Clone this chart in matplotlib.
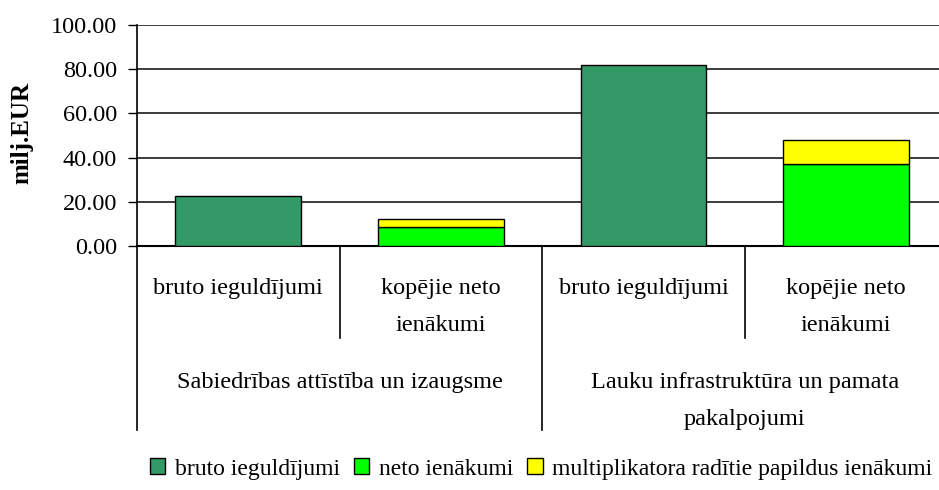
import matplotlib.pyplot as plt
from matplotlib.patches import Patch
import matplotlib.transforms as mtransforms

plt.rcParams['font.family'] = ['Liberation Serif', 'DejaVu Serif']

# dati (milj. EUR)
groups = ["Sabiedrības attīstība un izaugsme", "Lauku infrastruktūra un pamata\npakalpojumi"]
sub_labels = ["bruto ieguldījumi", "kopējie neto\nienākumi", "bruto ieguldījumi", "kopējie neto\nienākumi"]
bruto = [22.6, 81.7]
neto = [8.5, 36.9]
multiplikators = [3.6, 11.0]
legend_labels = ["bruto ieguldījumi", "neto ienākumi", "multiplikatora radītie papildus ienākumi"]
y_ticks = [0, 20, 40, 60, 80, 100]

c_bruto = '#339966'
c_neto = '#00ff00'
c_mult = '#ffff00'

fig = plt.figure(figsize=(9.39, 4.90), dpi=100)
ax = fig.add_axes([137 / 939, 1 - 246 / 490, 810.5 / 939, 221 / 490])

x_bruto = [0, 2]
x_neto = [1, 3]
w = 0.62
ax.bar(x_bruto, bruto, width=w, color=c_bruto, edgecolor='black', linewidth=1.0, zorder=3)
ax.bar(x_neto, neto, width=w, color=c_neto, edgecolor='black', linewidth=1.0, zorder=3)
ax.bar(x_neto, multiplikators, bottom=neto, width=w, color=c_mult, edgecolor='black', linewidth=1.0, zorder=3)

ax.set_xlim(-0.5, 3.5)
ax.set_ylim(0, 100)
ax.set_yticks(y_ticks)
ax.set_yticklabels([f"{v:.2f}" for v in y_ticks], fontsize=17.5)
ax.tick_params(axis='y', direction='out', length=6.5, width=1.0, pad=8, colors='black')
ax.set_xticks([])
ax.yaxis.grid(True, color='#1a1a1a', linewidth=1.2, zorder=0)
ax.set_axisbelow(True)
for s in ['top', 'right']:
    ax.spines[s].set_visible(False)
ax.spines['left'].set_linewidth(1.2)
ax.spines['bottom'].set_linewidth(1.5)

ax.set_ylabel("milj.EUR", fontsize=18, fontweight='bold')
ax.yaxis.set_label_coords(-0.128, 0.51)

# daudzlīmeņu kategoriju ass
trans = mtransforms.blended_transform_factory(ax.transData, ax.transAxes)
for xs in [0.5, 2.5]:
    ax.plot([xs, xs], [0, -0.416], transform=trans, color='black', lw=1.2, clip_on=False)
for xs in [-0.5, 1.5, 3.5]:
    ax.plot([xs, xs], [0, -0.833], transform=trans, color='black', lw=1.2, clip_on=False)

for i, lab in enumerate(sub_labels):
    ax.text(i, -0.145, lab, transform=trans, ha='center', va='top', fontsize=17.5, linespacing=2.0)
for j, lab in enumerate(groups):
    ax.text(2 * j + 0.5, -0.57, lab, transform=trans, ha='center', va='top', fontsize=17.5, linespacing=2.0)

handles = [Patch(facecolor=c, edgecolor='black', linewidth=1.0) for c in [c_bruto, c_neto, c_mult]]
fig.legend(handles, legend_labels, loc='center', bbox_to_anchor=(541 / 939, 1 - 469 / 490),
           ncol=3, frameon=False, fontsize=17, handlelength=0.65, handleheight=0.65,
           handletextpad=0.4, columnspacing=0.6, borderaxespad=0)

fig.savefig("out.png", dpi=100)
